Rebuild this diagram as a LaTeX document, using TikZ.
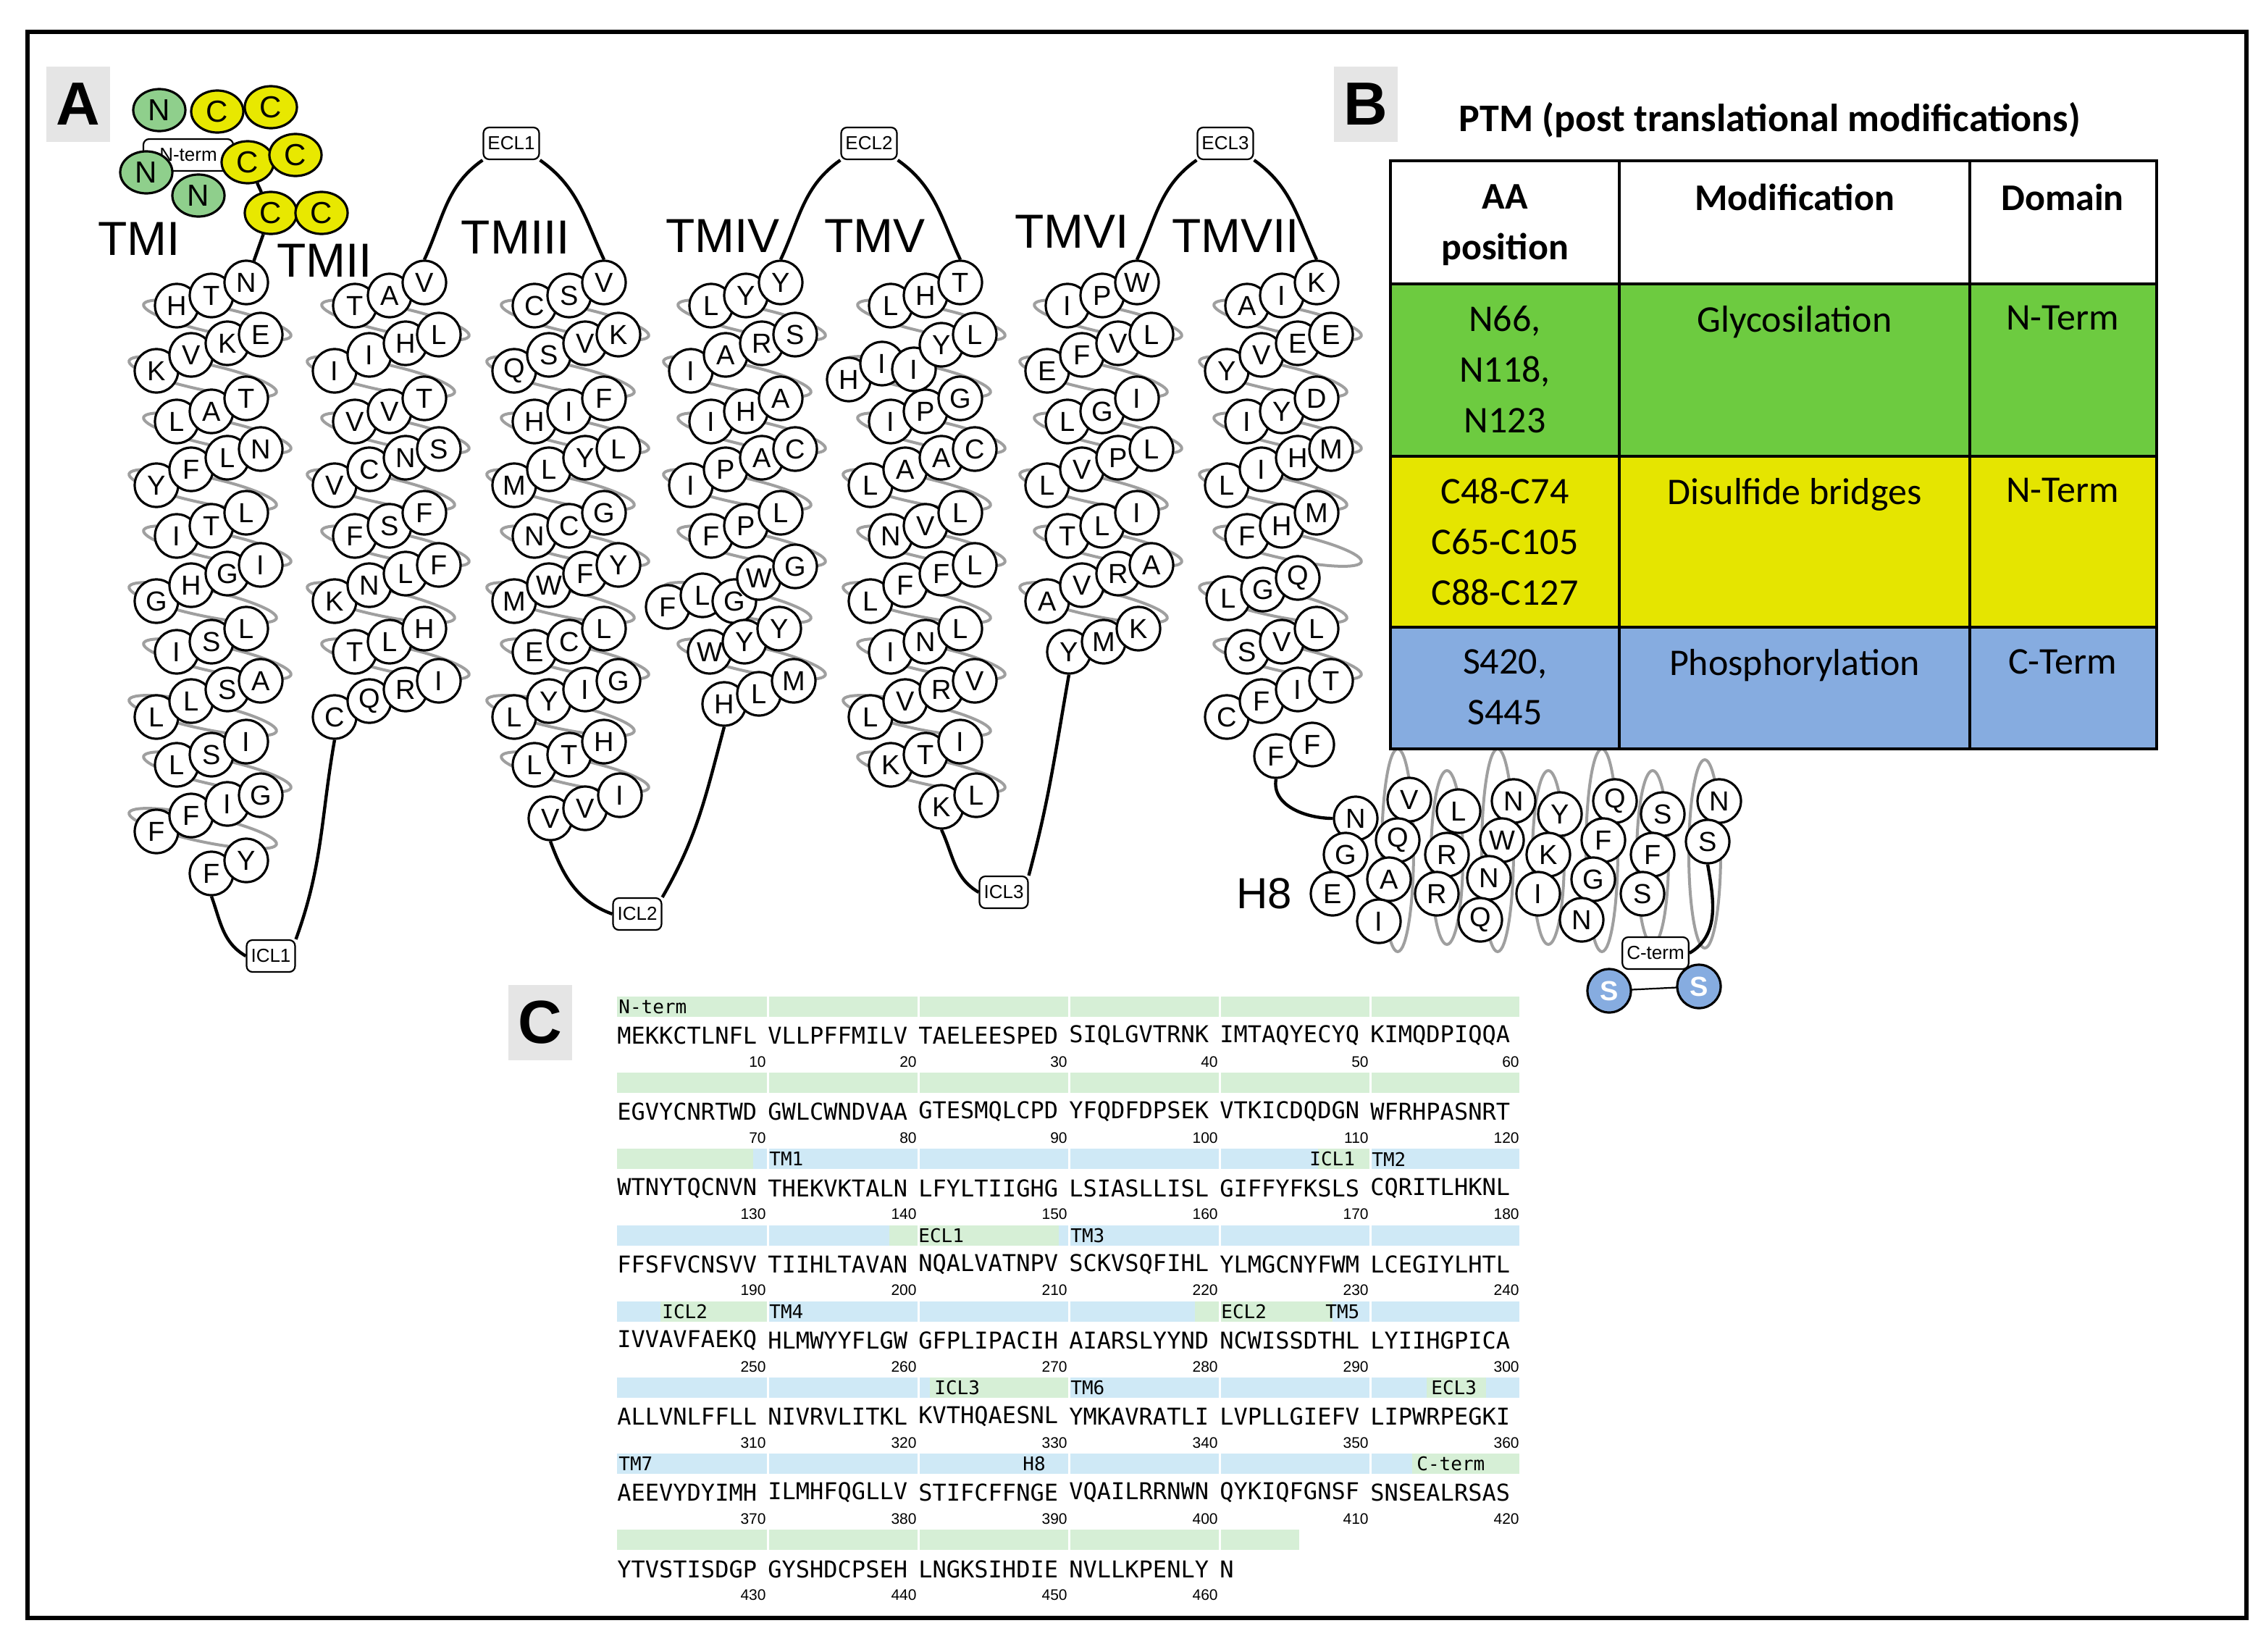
\documentclass[tikz,border=0pt]{standalone}
\usepackage{fontspec}
\setmainfont{Liberation Sans}
\newfontfamily\tabfont{Carlito}
\newfontfamily\seqfont{DejaVu Sans Mono}
\usetikzlibrary{shapes.geometric}
\definecolor{ngreen}{HTML}{8FCF8C}
\definecolor{cyel}{HTML}{E8E800}
\definecolor{tgreen}{HTML}{6DCB40}
\definecolor{tyel}{HTML}{E5E500}
\definecolor{tblue}{HTML}{86ACE0}
\definecolor{bgreen}{HTML}{D6EFD6}
\definecolor{bblue}{HTML}{CFE9F6}
\tikzset{
 res/.style={circle,draw,line width=1.6pt,fill=white,minimum size=30pt,inner sep=0pt,font=\fontsize{19}{19}\selectfont},
 ell/.style={ellipse,draw,line width=1.6pt,minimum width=36pt,minimum height=29pt,inner sep=0pt,font=\fontsize{21}{21}\selectfont},
 hel/.style={gray!75,line width=2pt},
 loopb/.style={draw,rounded corners=4pt,line width=1.1pt,fill=white,font=\fontsize{13}{13}\selectfont,inner sep=3pt,minimum height=22pt},
 lnk/.style={line width=2.2pt},
 tml/.style={font=\fontsize{33}{33}\selectfont},
 seq/.style={font=\seqfont\fontsize{16}{16}\selectfont,inner sep=0pt,anchor=west},
 num/.style={font=\fontsize{10.5}{10.5}\selectfont,inner sep=0pt,anchor=east},
 ann/.style={font=\seqfont\fontsize{13}{13}\selectfont,inner sep=0pt,anchor=west},
 tab/.style={font=\tabfont\fontsize{26}{33}\selectfont,align=center,inner sep=0pt,anchor=north},
 plet/.style={font=\bfseries\fontsize{42}{42}\selectfont,fill=gray!20,minimum width=44pt,minimum height=52pt,inner sep=0pt}
}
\newcommand\rthree[6]{\node[res] (#1-1) at ({#2-23},{#3+16}) {#4};\node[res] (#1-2) at ({#2+1},{#3+9}) {#5};\node[res] (#1-3) at ({#2+25},{#3}) {#6};}
\newcommand\rfour[7]{\node[res] (#1-1) at ({#2-37},{#3+25}) {#4};\node[res] (#1-2) at ({#2-13},{#3+14}) {#5};\node[res] (#1-3) at ({#2+12},{#3+6}) {#6};\node[res] (#1-4) at ({#2+35},{#3}) {#7};}
\newcommand\hlx[2]{\foreach \k in {0,...,#2}{\pgfmathsetmacro\dx{mod(\k,2)==0?5:-5}\draw[hel] ({#1+\dx},{221+39*\k}) circle[x radius=52,y radius=9,rotate=-12];}}
\newcommand\sbar[4]{\fill[#4] (#2,{688+52.6*#1}) rectangle (#3,{702+52.6*#1});}
\begin{document}
\begin{tikzpicture}[x=1pt,y=-1pt]
\useasboundingbox (0,0) rectangle (1564.5,1140.5);
\fill[white] (0,0) rectangle (1564.5,1140.5);
\draw[line width=3pt] (19,22) rectangle (1551,1117);
% panel letters
\node[plet] (pA) at (54,72) {A};
\node[plet] (pB) at (943,72) {B};
\node[plet] (pC) at (373,706) {C};
% helix ellipses
\hlx{145}{9}
\hlx{268}{6}
\hlx{392}{8}
\hlx{514}{6}
\hlx{638}{8}
\hlx{760}{5}
\hlx{884}{6}
% H8 ellipses
\foreach \x/\ry [count=\i] in {965/70,999/60,1034/70,1069/60,1106/70,1141/60,1177/65}
 \draw[hel] (\x,{592-(\ry-60)/2}) circle[x radius=11,y radius=\ry];
% TM labels
\node[tml] (lt1) at (96,165) {TMI};
\node[tml] (lt2) at (224,180) {TMII};
\node[tml] (lt3) at (356,164) {TMIII};
\node[tml] (lt4) at (499,163) {TMIV};
\node[tml] (lt5) at (604,163) {TMV};
\node[tml] (lt6) at (740,160) {TMVI};
\node[tml] (lt7) at (853,163) {TMVII};
\node[font=\fontsize{30}{30}\selectfont] (lh8) at (873,617) {H8};
% loop boxes
\node[loopb] (ecl1) at (353,99) {ECL1};
\node[loopb] (ecl2) at (600,99) {ECL2};
\node[loopb] (ecl3) at (846,99) {ECL3};
\node[loopb] (icl1) at (187,660) {ICL1};
\node[loopb] (icl2) at (440,631) {ICL2};
\node[loopb] (icl3) at (693,616) {ICL3};
\node[loopb] (cterm) at (1143,658) {C-term};
\node[loopb,minimum width=62pt] (nterm) at (130,107) {N-term};
% TMI
\rthree{a1}{145}{195}{H}{T}{N}
\rfour{a2}{145}{231}{K}{V}{K}{E}
\rthree{a3}{145}{275}{L}{A}{T}
\rfour{a4}{145}{310}{Y}{F}{L}{N}
\rthree{a5}{145}{354}{I}{T}{L}
\rfour{a6}{145}{390}{G}{H}{G}{I}
\rthree{a7}{145}{434}{I}{S}{L}
\rfour{a8}{145}{470}{L}{L}{S}{A}
\rthree{a9}{145}{512}{L}{S}{I}
\rfour{a10}{145}{549}{F}{F}{I}{G}
\node[res] (a11-1) at (146,603) {F};
\node[res] (a11-2) at (170,594) {Y};
% TMII
\rthree{b1}{268}{195}{T}{A}{V}
\rfour{b2}{268}{231}{I}{I}{H}{L}
\rthree{b3}{268}{275}{V}{V}{T}
\rfour{b4}{268}{310}{V}{C}{N}{S}
\rthree{b5}{268}{354}{F}{S}{F}
\rfour{b6}{268}{390}{K}{N}{L}{F}
\rthree{b7}{268}{434}{T}{L}{H}
\rfour{b8}{268}{470}{C}{Q}{R}{I}
% TMIII
\rthree{c1}{392}{195}{C}{S}{V}
\rfour{c2}{392}{231}{Q}{S}{V}{K}
\rthree{c3}{392}{275}{H}{I}{F}
\rfour{c4}{392}{310}{M}{L}{Y}{L}
\rthree{c5}{392}{354}{N}{C}{G}
\rfour{c6}{392}{390}{M}{W}{F}{Y}
\rthree{c7}{392}{434}{E}{C}{L}
\rfour{c8}{392}{470}{L}{Y}{I}{G}
\rthree{c9}{392}{512}{L}{T}{H}
\rthree{c10}{403}{549}{V}{V}{I}
% TMIV
\rthree{d1}{514}{195}{L}{Y}{Y}
\rfour{d2}{514}{231}{I}{A}{R}{S}
\rthree{d3}{514}{275}{I}{H}{A}
\rfour{d4}{514}{310}{I}{P}{A}{C}
\rthree{d5}{514}{354}{F}{P}{L}
\node[res] (d6-1) at (461,419) {F};
\node[res] (d6-2) at (485,411) {L};
\node[res] (d6-3) at (507,415) {G};
\node[res] (d6-4) at (524,399) {W};
\node[res] (d6-5) at (549,391) {G};
\rthree{d7}{513}{434}{W}{Y}{Y}
\rthree{d8}{523}{470}{H}{L}{M}
% TMV
\rthree{e1}{638}{195}{L}{H}{T}
\node[res] (e2-1) at (586,262) {H};
\node[res] (e2-2) at (609,251) {I};
\node[res] (e2-3) at (631,255) {I};
\node[res] (e2-4) at (650,238) {Y};
\node[res] (e2-5) at (673,231) {L};
\rthree{e3}{638}{275}{I}{P}{G}
\rfour{e4}{638}{310}{L}{A}{A}{C}
\rthree{e5}{638}{354}{N}{V}{L}
\rfour{e6}{638}{390}{L}{F}{F}{L}
\rthree{e7}{638}{434}{I}{N}{L}
\rfour{e8}{638}{470}{L}{V}{R}{V}
\rthree{e9}{638}{512}{K}{T}{I}
\node[res] (e10-1) at (650,557) {K};
\node[res] (e10-2) at (674,549) {L};
% TMVI
\rthree{f1}{760}{195}{I}{P}{W}
\rfour{f2}{760}{231}{E}{F}{V}{L}
\rthree{f3}{760}{275}{L}{G}{I}
\rfour{f4}{760}{310}{L}{V}{P}{L}
\rthree{f5}{760}{354}{T}{L}{I}
\rfour{f6}{760}{390}{A}{V}{R}{A}
\rthree{f7}{761}{434}{Y}{M}{K}
% TMVII
\rthree{g1}{884}{195}{A}{I}{K}
\rfour{g2}{884}{231}{Y}{V}{E}{E}
\rthree{g3}{884}{275}{I}{Y}{D}
\rfour{g4}{884}{310}{L}{I}{H}{M}
\rthree{g5}{884}{354}{F}{H}{M}
\node[res] (g6-1) at (848,413) {L};
\node[res] (g6-2) at (872,407) {G};
\node[res] (g6-3) at (896,399) {Q};
\rthree{g7}{884}{434}{S}{V}{L}
\rfour{g8}{884}{470}{C}{F}{I}{T}
\node[res] (g9-1) at (881,522) {F};
\node[res] (g9-2) at (906,514) {F};
% H8
\foreach \x/\y/\l [count=\i] in {936/565/N,973/552/V,1007/560/L,1045/553/N,1077/562/Y,1115/553/Q,1148/562/S,1187/553/N}
 \node[res] (h1-\i) at (\x,\y) {\l};
\foreach \x/\y/\l [count=\i] in {929/590/G,965/580/Q,999/590/R,1037/580/W,1069/590/K,1107/580/F,1141/590/F,1179/581/S}
 \node[res] (h2-\i) at (\x,\y) {\l};
\foreach \x/\y/\l [count=\i] in {920/617/E,959/607/A,992/617/R,1028/606/N,1062/617/I,1100/607/G,1134/617/S}
 \node[res] (h3-\i) at (\x,\y) {\l};
\foreach \x/\y/\l [count=\i] in {952/636/I,1022/635/Q,1092/635/N}
 \node[res] (h4-\i) at (\x,\y) {\l};
\draw[line width=1.1pt] (1111,684) -- (1173,681);
\node[res,fill=tblue,font=\bfseries\fontsize{19}{19}\selectfont,text=white] (ps1) at (1111,684) {S};
\node[res,fill=tblue,font=\bfseries\fontsize{19}{19}\selectfont,text=white] (ps2) at (1173,681) {S};
% N-term cluster
\node[ell,fill=ngreen] (n1) at (110,76) {N};
\node[ell,fill=cyel] (cc1) at (150,77) {C};
\node[ell,fill=cyel] (cc2) at (187,74) {C};
\node[ell,fill=ngreen] (n2) at (101,119) {N};
\node[ell,fill=ngreen] (n3) at (137,135) {N};
\node[ell,fill=cyel] (cc3) at (171,112) {C};
\node[ell,fill=cyel] (cc4) at (204,107) {C};
\node[ell,fill=cyel] (cc5) at (187,147) {C};
\node[ell,fill=cyel] (cc6) at (222,147) {C};
% connectors
\draw[lnk] (cc3) -- (cc5);
\draw[lnk] (cc5) -- (a1-3);
\draw[lnk] (b1-3.north) to[out=65,in=215] (ecl1.south west);
\draw[lnk] (ecl1.south east) to[out=-35,in=115] (c1-3.north);
\draw[lnk] (d1-3.north) to[out=65,in=215] (ecl2.south west);
\draw[lnk] (ecl2.south east) to[out=-35,in=115] (e1-3.north);
\draw[lnk] (f1-3.north) to[out=65,in=215] (ecl3.south west);
\draw[lnk] (ecl3.south east) to[out=-35,in=115] (g1-3.north);
\draw[lnk] (a11-1.south) to[out=-70,in=150] (icl1.west);
\draw[lnk] (icl1.north east) to[out=70,in=-100] (b8-1.south);
\draw[lnk] (c10-1.south) to[out=-70,in=160] (icl2.west);
\draw[lnk] (icl2.north east) to[out=60,in=-105] (d8-1.south);
\draw[lnk] (e10-1.south) to[out=-65,in=150] (icl3.west);
\draw[lnk] (icl3.north east) to[out=75,in=-100] (f7-1.south);
\draw[lnk] (g9-1.south) to[out=-100,in=180] (h1-1.west);
\draw[lnk] (h2-8.south) to[out=-80,in=30] (cterm.east);
% Table
\node[font=\tabfont\bfseries\fontsize{27}{27}\selectfont] (title) at (1222,83) {PTM (post translational modifications)};
\fill[tgreen] (960,196) rectangle (1489,315);
\fill[tyel] (960,315) rectangle (1489,433);
\fill[tblue] (960,433) rectangle (1489,517);
\draw[line width=2.2pt] (960,111) rectangle (1489,517);
\draw[line width=2.2pt] (960,196) -- (1489,196) (960,315) -- (1489,315) (960,433) -- (1489,433) (1118,111) -- (1118,517) (1360,111) -- (1360,517);
\node[tab,font=\tabfont\bfseries\fontsize{26}{35}\selectfont] (h1) at (1039,127) {AA\\position};
\node[tab,font=\tabfont\bfseries\fontsize{26}{35}\selectfont] (h2) at (1239,127) {Modification};
\node[tab,font=\tabfont\bfseries\fontsize{26}{35}\selectfont] (h3) at (1424,127) {Domain};
\node[tab,font=\tabfont\fontsize{26}{35}\selectfont] (r11) at (1039,211) {N66,\\N118,\\N123};
\node[tab] (r12) at (1239,211) {Glycosilation};
\node[tab] (r13) at (1424,211) {N-Term};
\node[tab,font=\tabfont\fontsize{26}{35}\selectfont] (r21) at (1039,330) {C48-C74\\C65-C105\\C88-C127};
\node[tab] (r22) at (1239,330) {Disulfide bridges};
\node[tab] (r23) at (1424,330) {N-Term};
\node[tab,font=\tabfont\fontsize{26}{35}\selectfont] (r31) at (1039,448) {S420,\\S445};
\node[tab] (r32) at (1239,448) {Phosphorylation};
\node[tab] (r33) at (1424,448) {C-Term};
% Sequence panel bars
\sbar{0}{426}{1049}{bgreen}
\sbar{1}{426}{1049}{bgreen}
\sbar{2}{426}{520}{bgreen}\sbar{2}{520}{910}{bblue}\sbar{2}{910}{946}{bgreen}\sbar{2}{946}{1049}{bblue}
\sbar{3}{426}{614}{bblue}\sbar{3}{614}{731}{bgreen}\sbar{3}{731}{1049}{bblue}
\sbar{4}{426}{456}{bblue}\sbar{4}{456}{530}{bgreen}\sbar{4}{530}{825}{bblue}\sbar{4}{825}{920}{bgreen}\sbar{4}{920}{1049}{bblue}
\sbar{5}{426}{642}{bblue}\sbar{5}{642}{738}{bgreen}\sbar{5}{738}{985}{bblue}\sbar{5}{985}{1026}{bgreen}\sbar{5}{1026}{1049}{bblue}
\sbar{6}{426}{975}{bblue}\sbar{6}{975}{1049}{bgreen}
\sbar{7}{426}{897}{bgreen}
\foreach \r in {0,...,7}{\foreach \x in {530,634,738,842,946}{\draw[white,line width=1.5pt] (\x,{686+52.6*\r}) -- (\x,{704+52.6*\r});}}
% annotation labels
\node[ann] (l0) at (427,695) {N-term};
\node[ann] (l1) at (531,800.2) {TM1};
\node[ann] (l2) at (904,800.2) {ICL1};
\node[ann] (l3) at (947,800.2) {TM2};
\node[ann] (l4) at (634,852.8) {ECL1};
\node[ann] (l5) at (739,852.8) {TM3};
\node[ann] (l6) at (457,905.4) {ICL2};
\node[ann] (l7) at (531,905.4) {TM4};
\node[ann] (l8) at (843,905.4) {ECL2};
\node[ann] (l9) at (915,905.4) {TM5};
\node[ann] (l10) at (645,958) {ICL3};
\node[ann] (l11) at (739,958) {TM6};
\node[ann] (l12) at (988,958) {ECL3};
\node[ann] (l13) at (427,1010.6) {TM7};
\node[ann] (l14) at (706,1010.6) {H8};
\node[ann] (l15) at (978,1010.6) {C-term};
% sequences
\foreach \row [count=\r from 0] in {
 {MEKKCTLNFL,VLLPFFMILV,TAELEESPED,SIQLGVTRNK,IMTAQYECYQ,KIMQDPIQQA},
 {EGVYCNRTWD,GWLCWNDVAA,GTESMQLCPD,YFQDFDPSEK,VTKICDQDGN,WFRHPASNRT},
 {WTNYTQCNVN,THEKVKTALN,LFYLTIIGHG,LSIASLLISL,GIFFYFKSLS,CQRITLHKNL},
 {FFSFVCNSVV,TIIHLTAVAN,NQALVATNPV,SCKVSQFIHL,YLMGCNYFWM,LCEGIYLHTL},
 {IVVAVFAEKQ,HLMWYYFLGW,GFPLIPACIH,AIARSLYYND,NCWISSDTHL,LYIIHGPICA},
 {ALLVNLFFLL,NIVRVLITKL,KVTHQAESNL,YMKAVRATLI,LVPLLGIEFV,LIPWRPEGKI},
 {AEEVYDYIMH,ILMHFQGLLV,STIFCFFNGE,VQAILRRNWN,QYKIQFGNSF,SNSEALRSAS},
 {YTVSTISDGP,GYSHDCPSEH,LNGKSIHDIE,NVLLKPENLY,N}}{
 \foreach \blk [count=\k from 0] in \row {
  \node[seq] (s\r-\k) at ({426+104*\k},{715+52.6*\r}) {\blk};
 }
}
\foreach \r in {0,...,6}{\foreach \k in {0,...,5}{
 \pgfmathtruncatemacro\nn{60*\r+10*(\k+1)}
 \node[num] (n\r-\k) at ({426+104*\k+103},{733+52.6*\r}) {\nn};}}
\foreach \k in {0,...,3}{
 \pgfmathtruncatemacro\nn{430+10*\k}
 \node[num] (n7-\k) at ({426+104*\k+103},{733+52.6*7}) {\nn};}
\end{tikzpicture}
\end{document}
